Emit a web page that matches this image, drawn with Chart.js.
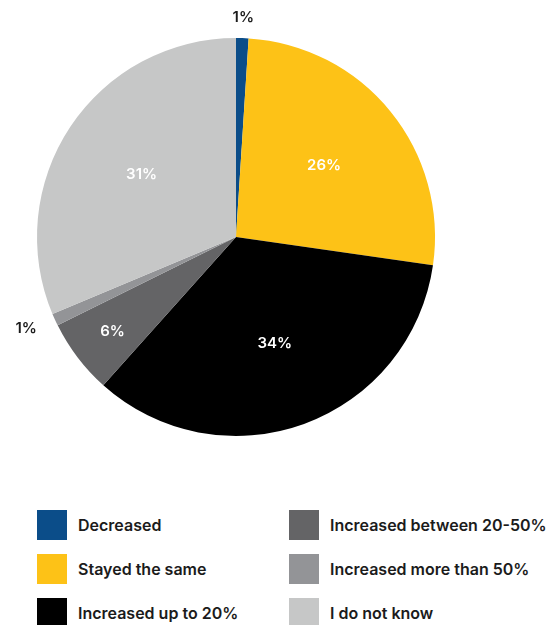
<!DOCTYPE html>
<html>
<head>
<meta charset="utf-8">
<script src="https://cdn.jsdelivr.net/npm/chart.js@4/dist/chart.umd.min.js"></script>
<style>
  body { margin: 0; background: #fff; font-family: Inter, 'Noto Sans', sans-serif; }
  #wrap { position: relative; width: 559px; height: 625px; }
  #pie { position: absolute; left: 0; top: 0; width: 472px; height: 474px; }
  .legend { position: absolute; top: 510px; left: 37px; width: 520px; }
  .item { position: absolute; display: flex; align-items: center; font-size: 16px; font-weight: 600; color: #1b1b1b; white-space: nowrap; }
  .sw { width: 30px; height: 30px; margin-right: 11px; }
</style>
</head>
<body>
<div id="wrap">
  <div id="pie"><canvas id="chart"></canvas></div>
  <div class="legend" id="legend"></div>
</div>
<script>
const labels = ['Decreased', 'Stayed the same', 'Increased up to 20%', 'Increased between 20-50%', 'Increased more than 50%', 'I do not know']
const values = [1, 26, 34, 6, 1, 31]
const colors = ['#0b4d89', '#fdc217', '#000000', '#646466', '#939497', '#c6c7c7']

// percentage labels: big slices inside, tiny ones pushed outside the rim
const pctLabels = {
  id: 'pctLabels',
  afterDatasetsDraw (chart) {
    const ctx = chart.ctx
    const meta = chart.getDatasetMeta(0)
    ctx.save()
    ctx.font = '600 15px Inter, sans-serif'
    ctx.textAlign = 'center'
    ctx.textBaseline = 'middle'
    meta.data.forEach((arc, i) => {
      const v = values[i]
      const text = v + '%'
      const mid = (arc.startAngle + arc.endAngle) / 2
      const cos = Math.cos(mid)
      const sin = Math.sin(mid)
      let x, y
      if (v < 2) {
        const r = arc.outerRadius + 21
        x = arc.x + cos * r + cos * ctx.measureText(text).width / 2
        y = arc.y + sin * r
        ctx.fillStyle = '#1b1b1b'
      } else {
        const r = arc.outerRadius * (v < 10 ? 0.78 : 0.57)
        x = arc.x + cos * r
        y = arc.y + sin * r
        ctx.fillStyle = '#fff'
      }
      ctx.fillText(text, x, y)
    })
    ctx.restore()
  }
}

new Chart(document.getElementById('chart'), {
  type: 'pie',
  data: {
    labels: labels,
    datasets: [{ data: values, backgroundColor: colors, borderWidth: 0 }]
  },
  options: {
    responsive: true,
    maintainAspectRatio: false,
    animation: false,
    layout: { padding: { left: 37, right: 37, top: 38, bottom: 38 } },
    plugins: { legend: { display: false }, tooltip: { enabled: false } }
  },
  plugins: [pctLabels]
})

// two-column legend, three rows each
const legendEl = document.getElementById('legend')
labels.forEach((name, i) => {
  const col = Math.floor(i / 3)
  const row = i % 3
  const item = document.createElement('div')
  item.className = 'item'
  item.style.left = (col * 252) + 'px'
  item.style.top = (row * 44) + 'px'
  item.innerHTML = '<div class="sw" style="background:' + colors[i] + '"></div>' + name
  legendEl.appendChild(item)
})
</script>
</body>
</html>
